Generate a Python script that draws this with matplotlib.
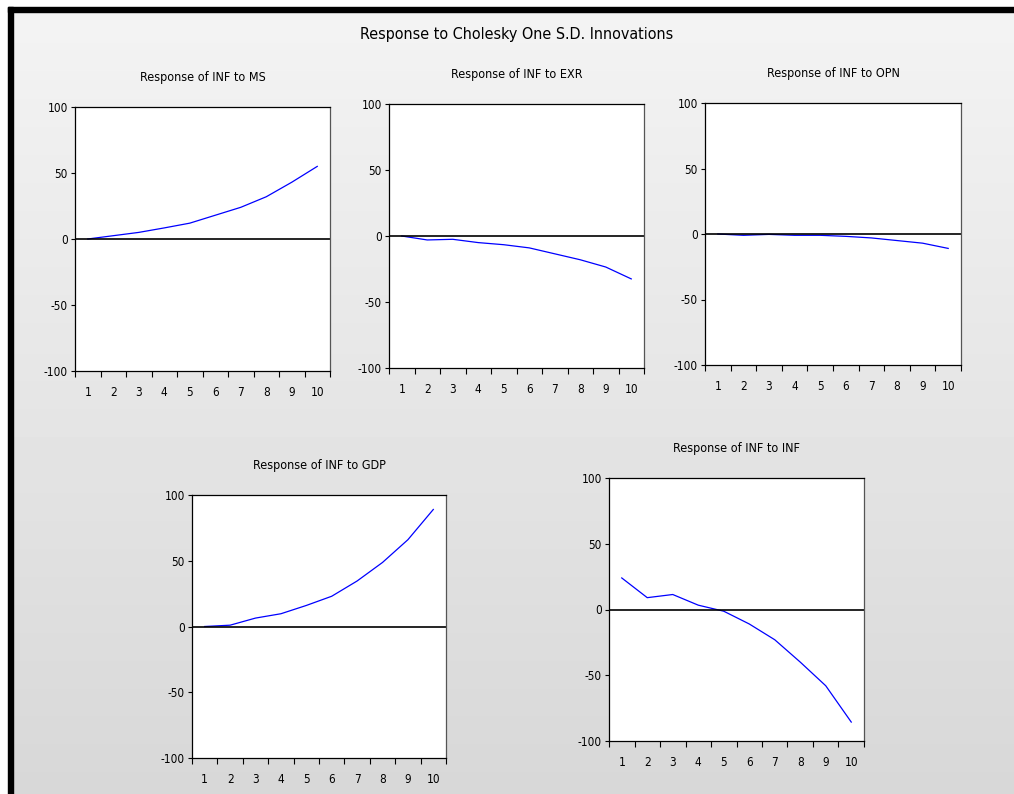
import numpy as np
import matplotlib
matplotlib.use('Agg')
import matplotlib.pyplot as plt
from matplotlib.patches import Rectangle

plt.rcParams['font.family'] = ['DejaVu Sans']
plt.rcParams['font.stretch'] = 'condensed'
plt.rcParams['axes.unicode_minus'] = False

W, H = 1014, 794

periods = [1, 2, 3, 4, 5, 6, 7, 8, 9, 10]
resp_ms = [0, 2.5, 5, 8.4, 12, 18, 24, 32, 43, 55]
resp_exr = [0, -3, -2.5, -5, -6.6, -9, -13.5, -18, -23.5, -32.5]
resp_opn = [0, -1, -0.3, -1, -1, -1.8, -3, -5, -7, -11]
resp_gdp = [0, 1, 6.4, 9.7, 16, 23, 34.6, 48.7, 66, 89]
resp_inf = [24, 9, 11.4, 3.3, -1.3, -11, -23, -40, -58, -85.6]

titles = ["Response of INF to MS", "Response of INF to EXR", "Response of INF to OPN",
          "Response of INF to GDP", "Response of INF to INF"]
series = [resp_ms, resp_exr, resp_opn, resp_gdp, resp_inf]
yticks = [-100, -50, 0, 50, 100]

# axes boxes in pixels: left, top, right, bottom
boxes = [(75, 107, 330, 371), (389, 104, 644, 368), (705, 103, 961, 365),
         (192, 495, 446, 758), (609, 478, 864, 741)]

fig = plt.figure(figsize=(W / 100, H / 100), dpi=100)

# gray gradient background + black frame
bg = fig.add_axes([0, 0, 1, 1], zorder=-10)
grad = np.linspace(0.955, 0.845, 256).reshape(-1, 1)
bg.imshow(grad, cmap='gray', vmin=0, vmax=1, aspect='auto', extent=[0, W, H, 0])
bg.set_xlim(0, W); bg.set_ylim(H, 0)
bg.add_patch(Rectangle((0, 0), W, 7, color='white'))
bg.add_patch(Rectangle((0, 0), 8, H, color='white'))
bg.add_patch(Rectangle((8, 7), W - 8, 4.5, color='black'))
bg.add_patch(Rectangle((8, 7), 4.5, H - 7, color='black'))
bg.axis('off')

fig.text(517 / W, 1 - 34 / H, "Response to Cholesky One S.D. Innovations",
         ha='center', va='center', fontsize=11.5)

for (l, t, r, b), ttl, vals in zip(boxes, titles, series):
    ax = fig.add_axes([l / W, 1 - b / H, (r - l) / W, (b - t) / H])
    ax.set_facecolor('white')
    ax.plot(periods, vals, color='#0000ff', lw=0.9)
    ax.axhline(0, color='black', lw=1.2)
    ax.set_xlim(0.5, 10.5)
    ax.set_ylim(-100, 100)
    ax.set_yticks(yticks)
    ax.set_xticks(periods)
    ax.set_xticks(np.arange(0.5, 11, 1), minor=True)
    ax.tick_params(axis='x', which='major', length=0, pad=11, labelsize=8.5)
    ax.tick_params(axis='x', which='minor', length=4, direction='out', width=0.8)
    ax.tick_params(axis='y', length=3, direction='out', width=0.8, pad=2, labelsize=8.5)
    for s in ax.spines.values():
        s.set_linewidth(0.9)
    ax.spines['right'].set_color('#555555')
    ax.set_title(ttl, fontsize=9, pad=19)

plt.savefig('out.png', dpi=100)
